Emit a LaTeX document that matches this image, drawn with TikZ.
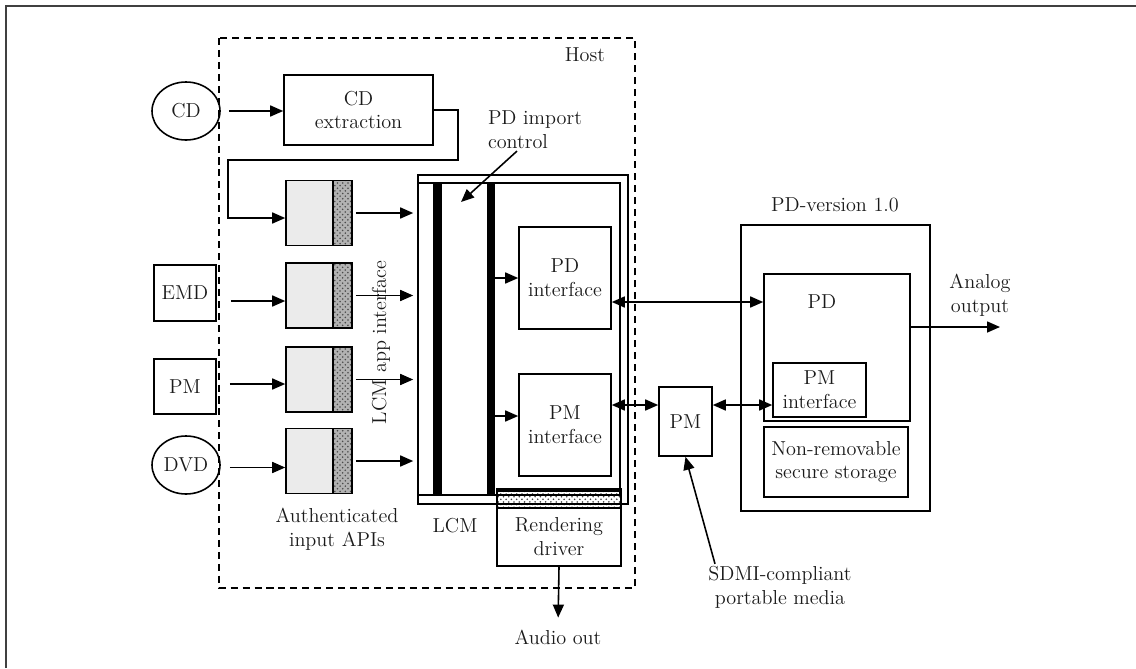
\documentclass[tikz,border=0pt]{standalone}
\usepackage{xcolor}
\usepackage{tikz}
\usetikzlibrary{arrows.meta,shapes.geometric,patterns}
\definecolor{TXT}{HTML}{1A1A1A}
\definecolor{API}{HTML}{EBEBEB}
\tikzset{
  box/.style={draw, line width=0.9pt, align=center, inner sep=1pt, text=TXT, font=\fontsize{11.5}{13.6}\selectfont},
  lbl/.style={align=center, inner sep=1pt, text=TXT, font=\fontsize{11.5}{13.6}\selectfont},
  apibox/.style={draw, line width=0.9pt, minimum width=1.32cm, minimum height=1.30cm, fill=API,
    path picture={\fill[black!30] ([xshift=-0.38cm]path picture bounding box.north east) rectangle (path picture bounding box.south east);
      \fill[pattern=crosshatch dots, pattern color=black!70] ([xshift=-0.38cm]path picture bounding box.north east) rectangle (path picture bounding box.south east);
      \draw[line width=0.9pt] ([xshift=-0.38cm]path picture bounding box.north east) -- ([xshift=-0.38cm]path picture bounding box.south east);}},
  bar/.style={fill=black, inner sep=0pt, minimum height=6.24cm},
  arr/.style={line width=0.9pt, -{Triangle[length=0.26cm,width=0.22cm]}},
  darr/.style={line width=0.9pt, {Triangle[length=0.26cm,width=0.22cm]}-{Triangle[length=0.26cm,width=0.22cm]}}
}
\begin{document}
\begin{tikzpicture}%
\useasboundingbox (0,0) rectangle (22.72,-13.36);%
\draw[line width=1pt, black!75] (0.12,-13.36) -- (0.12,-0.12) -- (22.72,-0.12);%
% host
\draw[line width=1.1pt, dash pattern=on 4pt off 2.8pt] (4.38,-0.76) rectangle (12.70,-11.76);%
\node[lbl] (host) at (11.70,-1.10) {Host};%
% sources
\node[box, ellipse, minimum width=1.36cm, minimum height=1.16cm] (cd) at (3.72,-2.22) {CD};%
\node[box, minimum width=2.98cm, minimum height=1.40cm] (cdext) at (7.17,-2.20) {CD\\extraction};%
\node[box, minimum width=1.24cm, minimum height=1.12cm] (emd) at (3.70,-5.86) {EMD};%
\node[box, minimum width=1.24cm, minimum height=1.10cm] (pmsrc) at (3.70,-7.73) {PM};%
\node[box, ellipse, minimum width=1.36cm, minimum height=1.16cm] (dvd) at (3.72,-9.30) {DVD};%
% authenticated input APIs
\node[apibox] (api1) at (6.38,-4.26) {};%
\node[apibox] (api2) at (6.38,-5.91) {};%
\node[apibox] (api3) at (6.38,-7.59) {};%
\node[apibox] (api4) at (6.38,-9.22) {};%
\node[lbl] (apilbl) at (6.74,-10.59) {Authenticated\\input APIs};%
% LCM
\node[draw, line width=0.9pt, pattern=crosshatch dots, pattern color=black!75, minimum width=2.48cm, minimum height=0.34cm, inner sep=0pt] (strip) at (11.18,-9.99) {};%
\node[draw, line width=0.9pt, minimum width=4.20cm, minimum height=6.58cm, inner sep=0pt] (lcmout) at (10.46,-6.79) {};%
\node[draw, line width=0.9pt, minimum width=4.04cm, minimum height=6.24cm, inner sep=0pt] (lcmin) at (10.38,-6.78) {};%
\node[bar, minimum width=0.18cm] (barl) at (8.75,-6.78) {};%
\node[bar, minimum width=0.16cm] (barr) at (9.82,-6.78) {};%
\draw[line width=2.2pt] (strip.north west) -- (strip.north east);%
\node[box, minimum width=2.48cm, minimum height=1.16cm] (rend) at (11.18,-10.74) {Rendering\\driver};%
\node[lbl] (lcmlbl) at (9.10,-10.52) {LCM};%
\node[lbl, rotate=90] (applbl) at (7.62,-6.85) {LCM app interface};%
\node[box, minimum width=1.84cm, minimum height=2.04cm] (pdif) at (11.30,-5.56) {PD\\interface};%
\node[box, minimum width=1.84cm, minimum height=2.04cm] (pmif) at (11.30,-8.50) {PM\\interface};%
\node[lbl, align=left] (pdimp) at (10.70,-2.60) {PD import\\control};%
\coordinate (imptip) at (9.22,-4.04);%
\node[lbl] (audio) at (11.16,-12.74) {Audio out};%
% portable media and PD
\node[box, minimum width=1.06cm, minimum height=1.38cm] (pmcard) at (13.71,-8.43) {PM};%
\node[lbl] (sdmi) at (15.60,-11.74) {SDMI-compliant\\portable media};%
\node[box, minimum width=3.78cm, minimum height=5.72cm] (pdver) at (16.71,-7.36) {};%
\node[lbl] (pdverlbl) at (16.70,-4.10) {PD-version 1.0};%
\node[box, minimum width=2.92cm, minimum height=2.94cm] (pdbox) at (16.74,-6.95) {};%
\node[lbl] (pdlbl) at (16.44,-6.04) {PD};%
\node[box, minimum width=1.86cm, minimum height=1.08cm] (pmpdif) at (16.39,-7.80) {PM\\interface};%
\node[box, minimum width=2.88cm, minimum height=1.40cm] (nrss) at (16.72,-9.24) {Non-removable\\secure storage};%
\node[lbl] (aolbl) at (19.60,-5.90) {Analog\\output};%
\coordinate (aout) at (20.00,-6.54);%
% connectors
\draw[arr, shorten <=0.16cm] (cd.east) -- (cd.east -| cdext.west);%
\draw[arr] (cdext.east) -- ++(0.48,0) -- ++(0,-1.0) -| ([xshift=-1.14cm,yshift=-0.10cm]api1.west) -- ([yshift=-0.10cm]api1.west);%
\draw[arr, shorten <=0.28cm] ([yshift=-0.11cm]api2.west -| emd.east) -- ([yshift=-0.11cm]api2.west);%
\draw[arr, shorten <=0.26cm] ([yshift=-0.09cm]api3.west -| pmsrc.east) -- ([yshift=-0.09cm]api3.west);%
\draw[arr, shorten <=0.18cm] ([yshift=-0.13cm]api4.west -| dvd.east) -- ([yshift=-0.13cm]api4.west);%
\draw[arr, shorten <=0.06cm, shorten >=0.08cm] (api1.east) -- (api1.east -| lcmin.west);%
\draw[arr, shorten <=0.06cm, shorten >=0.08cm] (api2.east) -- (api2.east -| lcmin.west);%
\draw[arr, shorten <=0.06cm, shorten >=0.08cm] (api3.east) -- (api3.east -| lcmin.west);%
\draw[arr, shorten <=0.06cm, shorten >=0.08cm] (api4.east) -- (api4.east -| lcmin.west);%
\draw[arr] (pdif.west -| barr.east) -- (pdif.west);%
\draw[arr] ([yshift=0.18cm]pmif.west -| barr.east) -- ([yshift=0.18cm]pmif.west);%
\draw[arr] ([xshift=-0.36cm]pdimp.south) -- (imptip);%
\draw[arr, shorten >=0.2cm] (rend.south) -- (audio.north);%
\draw[darr] ([yshift=-0.48cm]pdif.east) -- ([yshift=-0.48cm]pdif.east -| pdbox.west);%
\draw[darr] ([yshift=0.40cm]pmif.east) -- ([yshift=0.40cm]pmif.east -| pmcard.west);%
\draw[darr] ([yshift=0.33cm]pmcard.east) -- ([yshift=0.33cm]pmcard.east -| pmpdif.west);%
\draw[arr] ([xshift=-1.30cm]sdmi.north) -- (pmcard.south);%
\draw[arr] (pdbox.east |- aout) -- (aout);%
\end{tikzpicture}
\end{document}
